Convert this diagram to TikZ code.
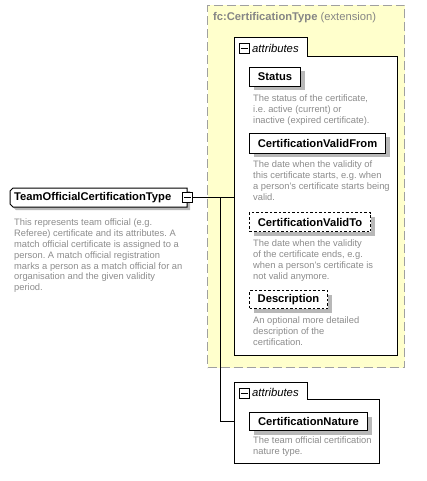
\documentclass[tikz,border=0pt]{standalone}
\usepackage{fontspec}
\setmainfont{Liberation Sans}
\usetikzlibrary{shadows}
\frenchspacing
\definecolor{yel}{HTML}{FFFFCC}
\definecolor{dashgray}{HTML}{A0A0A0}
\definecolor{desccol}{HTML}{8C8C8C}
\definecolor{titlecol}{HTML}{858585}
\definecolor{shad}{HTML}{B8B8B8}
\tikzset{
  elem/.style={draw=black, line width=1pt, fill=white, anchor=north west, inner sep=0pt,
    font=\fontsize{11.2}{13}\selectfont\bfseries,
    general shadow={fill=shad, shadow xshift=4pt, shadow yshift=-4pt}},
  optelem/.style={elem, dash pattern=on 2.5pt off 2pt},
  desctext/.style={anchor=north west, inner sep=0pt, align=left, text=desccol,
    font=\fontsize{9.35}{10.8}\selectfont},
  minusbox/.style={draw=black, line width=1pt, fill=white, minimum size=10pt, inner sep=0pt},
  tabtext/.style={anchor=west, inner sep=0pt, font=\fontsize{11.3}{13}\selectfont\itshape},
  grp/.style={draw=black, line width=1pt, fill=white},
  conn/.style={draw=black, line width=1pt},
}
\begin{document}
\begin{tikzpicture}[x=1pt,y=-1pt]
\useasboundingbox (0,0) rectangle (426,481);
% extension box
\node[draw=dashgray, fill=yel, line width=1pt, dash pattern=on 9pt off 4pt,
  anchor=north west, minimum width=197pt, minimum height=362pt, inner sep=0pt] (ext) at (207,5) {};
\node[anchor=west, inner sep=0pt, text=titlecol, font=\fontsize{11.2}{13}\selectfont] (exttitle) at (213,18)
  {\textbf{fc:CertificationType} (extension)};
% attributes group A
\coordinate (attrA) at (234,57);
\draw[grp] (234,38) -- (307,38) -- (307,57) -- (397,57) -- (397,355) -- (234,355) -- cycle;
\node[minusbox] (mA) at (244,49) {};
\draw[line width=1pt] ([xshift=2pt]mA.west) -- ([xshift=-2pt]mA.east);
\node[tabtext] (tA) at (252,48) {attributes};
% attributes group B
\coordinate (attrB) at (234,399);
\draw[grp] (234,382) -- (307,382) -- (307,399) -- (379,399) -- (379,463) -- (234,463) -- cycle;
\node[minusbox] (mB) at (244,393) {};
\draw[line width=1pt] ([xshift=2pt]mB.west) -- ([xshift=-2pt]mB.east);
\node[tabtext] (tB) at (252,392) {attributes};
% elements
\node[elem, minimum width=51pt, minimum height=19pt] (status) at (249,67) {Status};
\node[desctext] (statusd) at (253,95) {The status of the certificate,\\i.e. active (current) or\\inactive (expired certificate).};
\node[elem, minimum width=136pt, minimum height=20pt] (cvf) at (249,133) {CertificationValidFrom};
\node[desctext] (cvfd) at (253,161) {The date when the validity of\\this certificate starts, e.g. when\\a person's certificate starts being\\valid.};
\node[optelem, minimum width=121pt, minimum height=19pt] (cvt) at (249,212) {CertificationValidTo};
\node[desctext] (cvtd) at (253,240) {The date when the validity\\of the certificate ends, e.g.\\when a person's certificate is\\not valid anymore.};
\node[optelem, minimum width=78pt, minimum height=18pt] (descr) at (249,290) {Description};
\node[desctext] (descrd) at (253,317) {An optional more detailed\\description of the\\certification.};
\node[elem, minimum width=118pt, minimum height=18pt] (cn) at (249,412) {CertificationNature};
\node[desctext] (cnd) at (253,437) {The team official certification\\nature type.};
% root
\fill[shad] (16,191) -- (190,191) -- (190,210) -- (16,210) -- (13,207) -- (13,194) -- cycle;
\draw[fill=white, line width=1pt] (13,188) -- (187,188) -- (187,207) -- (13,207) -- (10,204) -- (10,191) -- cycle;
\node[anchor=west, inner sep=0pt, font=\fontsize{11.2}{13}\selectfont\bfseries] (root) at (14,197.5) {TeamOfficialCertificationType};
\node[minusbox] (rootm) at (187.5,197) {};
\draw[line width=1pt] ([xshift=2pt]rootm.west) -- ([xshift=-2pt]rootm.east);
\node[desctext] (rootd) at (14,219) {This represents team official (e.g.\\Referee) certificate and its attributes. A\\match official certificate is assigned to a\\person. A match official registration\\marks a person as a match official for an\\organisation and the given validity\\period.};
% connectors
\coordinate (j) at (220,197);
\draw[conn] (rootm.east) -- (rootm.east -| attrA);
\draw[conn] (rootm.east -| j) |- (cn.west -| attrB);
\end{tikzpicture}
\end{document}
